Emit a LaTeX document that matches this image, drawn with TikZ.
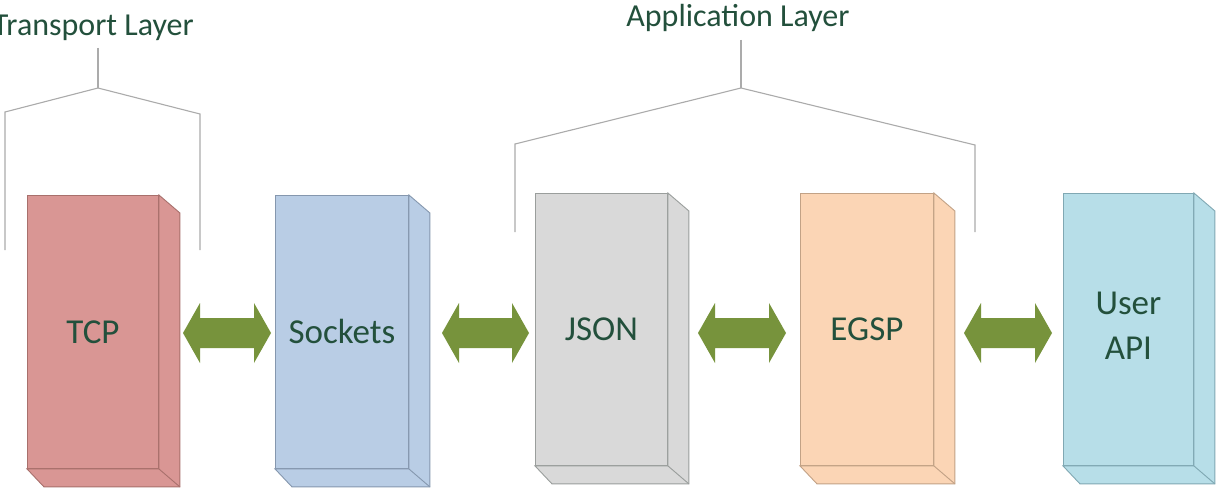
\documentclass[tikz,border=0pt]{standalone}
\usepackage{fontspec}
\setmainfont{Carlito}
\usetikzlibrary{calc}
\definecolor{txtgreen}{HTML}{23503C}
\definecolor{arrgreen}{HTML}{77933C}
\definecolor{brk}{HTML}{ABABAB}
\definecolor{tcpfill}{HTML}{D99694}\definecolor{tcpline}{HTML}{A8706C}
\definecolor{sockfill}{HTML}{B9CDE5}\definecolor{sockline}{HTML}{8597AE}
\definecolor{jsonfill}{HTML}{D9D9D9}\definecolor{jsonline}{HTML}{9A9E9C}
\definecolor{egspfill}{HTML}{FBD5B5}\definecolor{egspline}{HTML}{C2A286}
\definecolor{userfill}{HTML}{B7DEE8}\definecolor{userline}{HTML}{80A8B3}
\tikzset{
  front/.style={rectangle, inner sep=0pt, anchor=north west, line width=0.9pt,
    text=txtgreen, font=\fontsize{35}{45}\selectfont, align=center},
  extru/.style={line width=0.9pt, line join=miter},
  blockarrow/.style={fill=arrgreen, draw=none},
  layerlabel/.style={text=txtgreen, font=\fontsize{32}{38}\selectfont, inner sep=0pt},
  bracket/.style={draw=brk, line width=1.1pt}
}
\newcommand\mycuboid[7]{% name, x, y, w, h, fill, line
  \node[front, fill=#6, draw=#7, minimum width=#4pt, minimum height=#5pt] (#1) at (#2,#3) {};
  \draw[extru, fill=#6, draw=#7] (#1.north east) -- ++(21,18) -- ($(#1.south east)+(21,18)$)
     -- ($(#1.south west)+(17,18)$) -- (#1.south west) -- (#1.south east) -- cycle;
  \draw[extru, draw=#7] (#1.south east) -- ++(21,18);
}
\newcommand\dblarrow[2]{% left end, right end (named coordinates)
  \fill[blockarrow] (#1) -- ++(17,-30) -- ++(0,15) -- ($(#2)+(-17,-15)$) -- ++(0,-15)
    -- (#2) -- ++(-17,30) -- ++(0,-15) -- ($(#1)+(17,15)$) -- ++(0,15) -- cycle;
}
\begin{document}
\begin{tikzpicture}[x=1pt,y=-1pt]
\useasboundingbox (0,0) rectangle (1227,495);
\fill[white] (0,0) rectangle (1227,495);
% boxes
\mycuboid{tcp}{27}{195}{131}{273}{tcpfill}{tcpline}
\mycuboid{sock}{275}{195}{133}{273}{sockfill}{sockline}
\mycuboid{json}{535}{193}{132}{272}{jsonfill}{jsonline}
\mycuboid{egsp}{800}{193}{133}{272}{egspfill}{egspline}
\mycuboid{user}{1063}{193}{130}{272}{userfill}{userline}
\node[front, anchor=center] (tcpt) at (tcp.center) {TCP};
\node[front, anchor=center] (sockt) at (sock.center) {Sockets};
\node[front, anchor=center] (jsont) at (json.center) {JSON};
\node[front, anchor=center] (egspt) at (egsp.center) {EGSP};
\node[front, anchor=center] (usert) at ($(user.center)+(0,-4)$) {User\\API};
% arrows between boxes
\coordinate (a1l) at (183,333);  \coordinate (a1r) at (271,333);
\coordinate (a2l) at (442,333);  \coordinate (a2r) at (529,333);
\coordinate (a3l) at (698,333);  \coordinate (a3r) at (786,333);
\coordinate (a4l) at (964,333);  \coordinate (a4r) at (1052,333);
\dblarrow{a1l}{a1r}
\dblarrow{a2l}{a2r}
\dblarrow{a3l}{a3r}
\dblarrow{a4l}{a4r}
% layer labels
\node[layerlabel, anchor=base east] (tl) at (194,36) {Transport Layer};
\node[layerlabel, anchor=base] (al) at (738,27) {Application Layer};
% brackets
\coordinate (tt) at (98,48);
\coordinate (tm) at (98,88);
\draw[bracket] (tt) -- (tm);
\draw[bracket] (5,250) -- (5,112) -- (tm) -- (200,114) -- (200,250);
\coordinate (at) at (741,40);
\coordinate (am) at (741,88);
\draw[bracket] (at) -- (am);
\draw[bracket] (515,232) -- (515,144) -- (am) -- (975,145) -- (975,232);
\end{tikzpicture}
\end{document}
